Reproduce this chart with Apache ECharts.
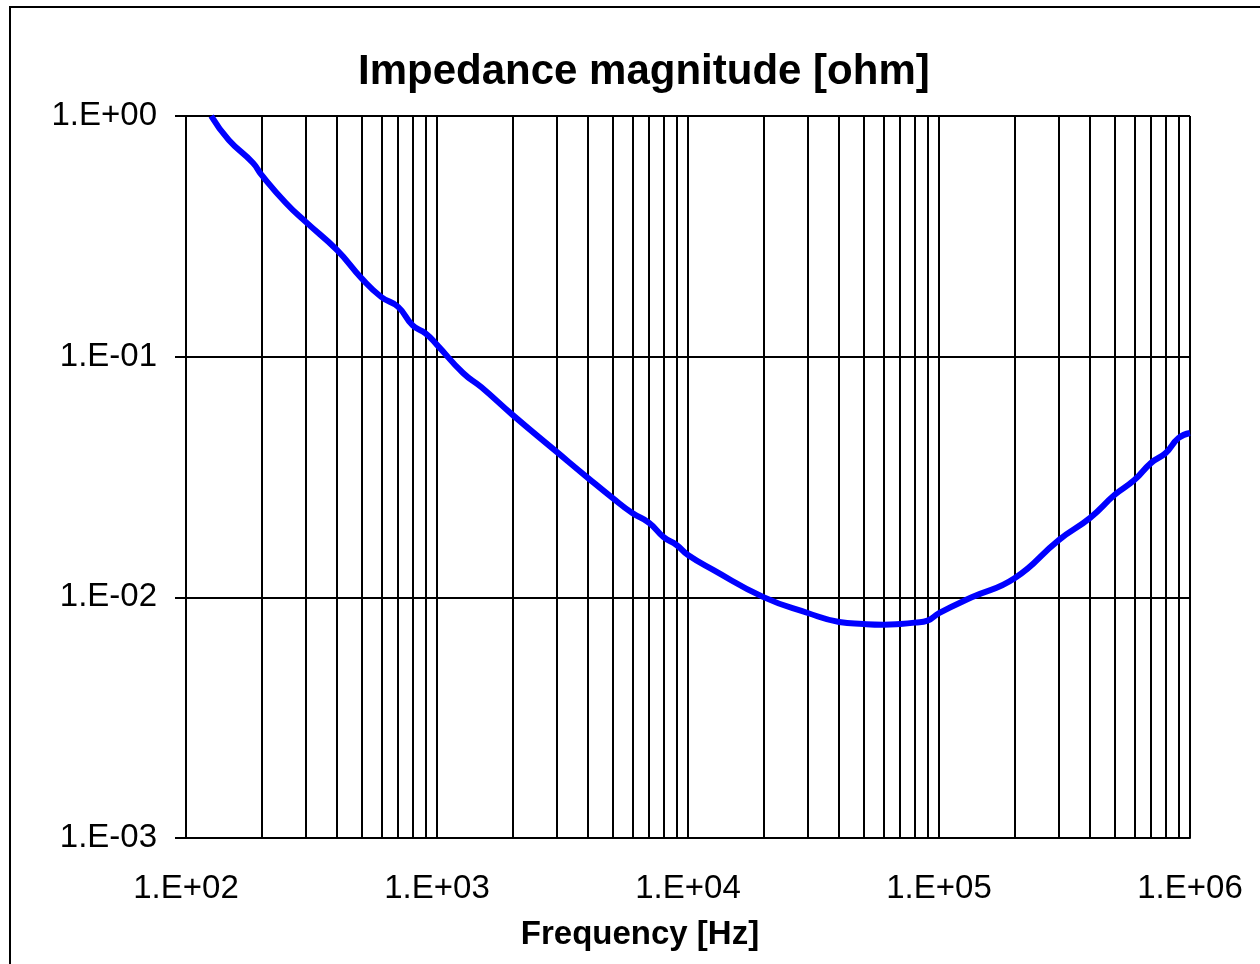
<!DOCTYPE html>
<html>
<head>
<meta charset="utf-8">
<script src="https://cdn.jsdelivr.net/npm/echarts@6/dist/echarts.min.js"></script>
<style>
  html, body { margin: 0; padding: 0; background: #fff; }
  #chart { width: 1260px; height: 964px; }
</style>
</head>
<body>
<div id="chart"></div>
<script>
// frequency [Hz] and impedance magnitude [ohm]
const frequency = [126, 148, 185, 200, 250, 300, 400, 500, 600, 700, 800, 900, 1000,
    1270, 1500, 2000, 3000, 4000, 5000, 6000, 7000, 8000, 9000, 10000, 12600,
    20000, 30000, 40000, 50000, 60000, 70000, 80000, 90000, 100000, 135000,
    200000, 300000, 400000, 500000, 600000, 700000, 800000, 900000, 1000000];
const impedance = [1.0, 0.795, 0.638, 0.569, 0.435, 0.363, 0.277, 0.212, 0.177, 0.161, 0.135, 0.125, 0.112,
    0.0855, 0.0748, 0.0573, 0.0402, 0.0313, 0.0259, 0.0224, 0.0204, 0.0178, 0.0165, 0.0150, 0.0130,
    0.01002, 0.00861, 0.00790, 0.00775, 0.00770, 0.00775, 0.00785, 0.00800, 0.0086, 0.0100,
    0.0120, 0.0173, 0.0214, 0.0266, 0.0307, 0.0362, 0.0398, 0.0459, 0.0482];

// minor vertical grid lines (2..9 in each decade)
const minorGrid = [];
for (let d = 100; d < 1e6; d *= 10) {
    for (let k = 2; k <= 9; k++) minorGrid.push(d * k);
}

const font = 'Arial, "Liberation Sans", sans-serif';

function expLabel(value) {
    const e = Math.round(Math.log10(value));
    return '1.E' + (e < 0 ? '-' : '+') + String(Math.abs(e)).padStart(2, '0');
}

const chart = echarts.init(document.getElementById('chart'));

chart.setOption({
    animation: false,
    backgroundColor: '#fff',
    title: {
        text: 'Impedance magnitude [ohm]',
        left: 353,
        top: 46,
        textStyle: { fontFamily: font, fontSize: 42, fontWeight: 'bold', color: '#000' }
    },
    graphic: [{
        type: 'rect',
        shape: { x: 10, y: 7, width: 1262, height: 972 },
        style: { fill: 'none', stroke: '#000', lineWidth: 2 },
        silent: true
    }],
    grid: { left: 186, right: 70, top: 116, bottom: 126, outerBoundsMode: 'none', containLabel: false },
    xAxis: {
        type: 'log',
        logBase: 10,
        min: 100,
        max: 1000000,
        name: 'Frequency [Hz]',
        nameLocation: 'middle',
        nameGap: 80,
        nameTextStyle: { fontFamily: font, fontSize: 33, fontWeight: 'bold', color: '#000', padding: [0, 96, 0, 0] },
        axisLine: { show: true, lineStyle: { color: '#000', width: 2 } },
        axisTick: { show: false },
        axisLabel: { fontFamily: font, fontSize: 33, color: '#000', margin: 34, formatter: expLabel },
        splitLine: { show: true, lineStyle: { color: '#000', width: 2 } }
    },
    yAxis: {
        type: 'log',
        logBase: 10,
        min: 0.001,
        max: 1,
        axisLine: { show: true, lineStyle: { color: '#000', width: 2 } },
        axisTick: { show: true, length: 11, lineStyle: { color: '#000', width: 2 } },
        axisLabel: { fontFamily: font, fontSize: 33, color: '#000', margin: 29, formatter: expLabel },
        splitLine: { show: true, lineStyle: { color: '#000', width: 2 } }
    },
    series: [{
        type: 'line',
        data: frequency.map((f, i) => [f, impedance[i]]),
        showSymbol: false,
        smooth: true,
        lineStyle: { color: '#0000ff', width: 6 },
        itemStyle: { color: '#0000ff' },
        z: 5,
        markLine: {
            silent: true,
            symbol: 'none',
            label: { show: false },
            lineStyle: { color: '#000', width: 2, type: 'solid' },
            data: minorGrid.map(v => ({ xAxis: v }))
        }
    }]
});
</script>
</body>
</html>
